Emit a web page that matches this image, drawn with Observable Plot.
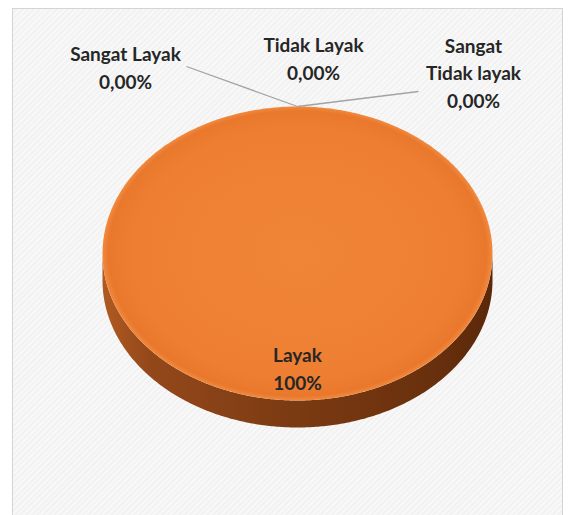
<!DOCTYPE html>
<html><head><meta charset="utf-8">
<script src="https://cdn.jsdelivr.net/npm/d3@7"></script>
<script src="https://cdn.jsdelivr.net/npm/@observablehq/plot@0.6"></script>
<style>
html,body{margin:0;padding:0;background:#fff;}
#wrap{position:relative;width:571px;height:515px;overflow:hidden;}
#panel{position:absolute;left:12px;top:8px;width:549px;height:520px;border:1px solid #d4d4d4;background:repeating-linear-gradient(135deg,#f8f8f8 0 2px,#f2f2f2 2px 4px);}
#chart{position:absolute;left:0;top:0;}
g[aria-label="shadow"]{filter:blur(6px);}
</style></head><body>
<div id="wrap"><div id="panel"></div><div id="chart"></div></div>
<script>
// ---- data ----
const categories = ["Sangat Layak", "Layak", "Tidak Layak", "Sangat Tidak layak"];
const values = [0, 100, 0, 0];
const valueLabels = ["0,00%", "100%", "0,00%", "0,00%"];
const labelNames = ["Sangat Layak", "Layak", "Tidak Layak", "Sangat\nTidak layak"];

// ---- style / layout ----
const colors = ["#4472c4", "url(#topGrad)", "#a5a5a5", "#ffc000"];
const W = 571, H = 515, CX = 297, CY = 253, RX = 195, RY = 147, DEPTH = 27;
const D = DEPTH / RY;
// label offsets (px) from the slice anchor for small slices, and leader start
const outerLayout = {
  "Sangat Layak": {dx: -172, dy: -18, lx: -111, ly: -40},
  "Tidak Layak": {dx: 16, dy: -27, lx: null, ly: null},
  "Sangat Tidak layak": {dx: 176, dy: 1, lx: 121, ly: -15}
};
const FS = 19, LH = 27.5 / FS;

const arcs = d3.pie().sort(null).value(d => d)(values);
const step = 0.01;
const topRows = [], sideRows = [], shadowRows = [];
arcs.forEach((a, i) => {
  const key = categories[i];
  if (a.endAngle - a.startAngle <= 0) return;
  const full = a.endAngle - a.startAngle >= 2 * Math.PI - 1e-9;
  const n = Math.max(2, Math.ceil((a.endAngle - a.startAngle) / step));
  if (!full) topRows.push({key, x: 0, y: 0});
  for (let k = 0; k <= n; k++) {
    const t = a.startAngle + (a.endAngle - a.startAngle) * k / n;
    topRows.push({key, x: Math.sin(t), y: Math.cos(t)});
  }
  const s = Math.max(a.startAngle, Math.PI / 2), e = Math.min(a.endAngle, 3 * Math.PI / 2);
  if (e > s) {
    const m = Math.max(2, Math.ceil((e - s) / step));
    for (let k = 0; k <= m; k++) { const t = s + (e - s) * k / m; sideRows.push({key, x: Math.sin(t), y: Math.cos(t)}); }
    for (let k = m; k >= 0; k--) { const t = s + (e - s) * k / m; sideRows.push({key, x: Math.sin(t), y: Math.cos(t) - D}); }
  }
});
for (let k = 0; k <= 200; k++) {
  const t = 2 * Math.PI * k / 200;
  shadowRows.push({x: 1.0 * Math.sin(t), y: 0.98 * Math.cos(t) - D - 0.03});
}

const outerLabels = [], innerLabels = [], leaders = [];
arcs.forEach((a, i) => {
  const key = categories[i];
  const share = (a.endAngle - a.startAngle) / (2 * Math.PI);
  const text = labelNames[i] + "\n" + valueLabels[i];
  const mid = (a.startAngle + a.endAngle) / 2;
  if (share < 0.05) {
    const ax = Math.sin(mid), ay = Math.cos(mid);
    const L = outerLayout[key];
    outerLabels.push({key, text, x: ax + L.dx / RX, y: ay - L.dy / RY});
    if (L.lx != null) leaders.push({x1: ax + L.lx / RX, y1: ay - L.ly / RY, x2: ax, y2: ay});
  } else {
    const r = 0.775;
    innerLabels.push({key, text, x: r * Math.sin(mid), y: r * Math.cos(mid)});
  }
});

const defsMark = () => {
  const g = document.createElementNS("http://www.w3.org/2000/svg", "defs");
  g.innerHTML = `
  <linearGradient id="sideGrad" x1="0" x2="1" y1="0" y2="0">
    <stop offset="0" stop-color="#b05a22"/>
    <stop offset="0.12" stop-color="#94481a"/>
    <stop offset="0.5" stop-color="#7a3a12"/>
    <stop offset="0.85" stop-color="#69300d"/>
    <stop offset="1" stop-color="#5a280a"/>
  </linearGradient>
  <radialGradient id="topGrad" cx="0.5" cy="0.5" r="0.5">
    <stop offset="0" stop-color="#f08537"/>
    <stop offset="0.85" stop-color="#ee7f32"/>
    <stop offset="0.97" stop-color="#e9782c"/>
    <stop offset="1" stop-color="#f08a40"/>
  </radialGradient>`;
  return g;
};

const plot = Plot.plot({
  width: W, height: H, margin: 0,
  style: {background: "transparent", overflow: "visible"},
  x: {domain: [-CX / RX, (W - CX) / RX], range: [0, W], axis: null},
  y: {domain: [-(H - CY) / RY, CY / RY], range: [H, 0], axis: null},
  color: {domain: categories, range: colors},
  marks: [
    defsMark,
    Plot.line(shadowRows, {x: "x", y: "y", fill: "#8e9fb3", fillOpacity: 0.55, stroke: "none", curve: "linear-closed", ariaLabel: "shadow"}),
    Plot.line(sideRows, {x: "x", y: "y", z: "key", fill: "url(#sideGrad)", stroke: "none", curve: "linear-closed"}),
    Plot.line(topRows, {x: "x", y: "y", z: "key", fill: "key", stroke: "none", curve: "linear-closed"}),
    Plot.link(leaders, {x1: "x1", y1: "y1", x2: "x2", y2: "y2", stroke: "#a3a3a3", strokeWidth: 1.3}),
    Plot.text(outerLabels, {x: "x", y: "y", text: "text", lineAnchor: "bottom", lineHeight: LH, fontSize: FS, fontWeight: "bold", fontFamily: "Lato, sans-serif", fill: "#262626", textAnchor: "middle"}),
    Plot.text(innerLabels, {x: "x", y: "y", text: "text", lineAnchor: "middle", lineHeight: LH, fontSize: FS, fontWeight: "bold", fontFamily: "Lato, sans-serif", fill: "#262626", textAnchor: "middle"})
  ]
});
document.getElementById("chart").appendChild(plot);
</script>
</body></html>
